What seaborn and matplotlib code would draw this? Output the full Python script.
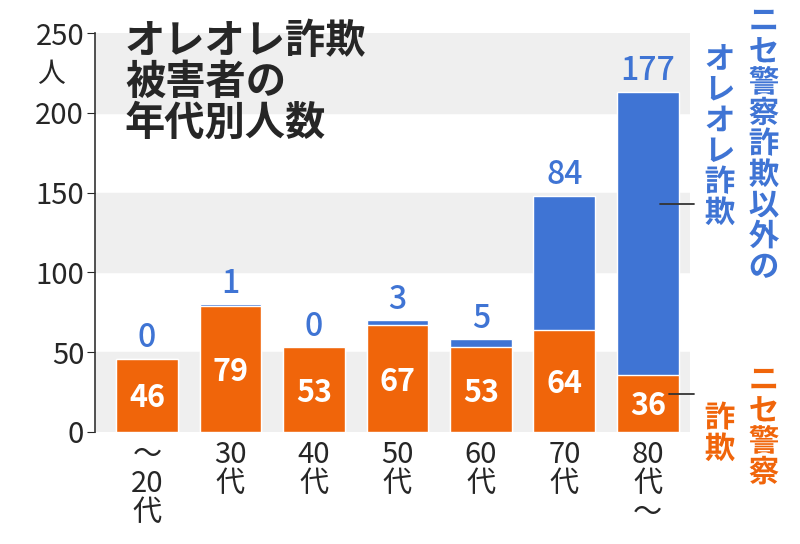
import matplotlib
matplotlib.use("Agg")
import matplotlib.pyplot as plt
import matplotlib.patheffects as pe
import seaborn as sns
import pandas as pd

ages = ["～\n20\n代", "30\n代", "40\n代", "50\n代", "60\n代", "70\n代", "80\n代\n～"]
police = [46, 79, 53, 67, 53, 64, 36]
other = [0, 1, 0, 3, 5, 84, 177]

sns.set_style("white")
plt.rcParams['font.family'] = ['Noto Sans CJK JP', 'DejaVu Sans']

blue = "#3f74d4"
orange = "#f0650a"

df = pd.DataFrame({"age": ages, "police": police, "other": other})
df["total"] = df["police"] + df["other"]

fig = plt.figure(figsize=(8, 5.44), dpi=100)
ax = fig.add_axes([0.119, 0.206, 0.744, 0.733])

for i, lo in enumerate(range(0, 250, 50)):
    if i % 2 == 0:
        ax.axhspan(lo, lo + 50, color="#efefef", zorder=0)

sns.barplot(data=df, x="age", y="total", color=blue, width=0.74, ax=ax, saturation=1, zorder=2)
sns.barplot(data=df, x="age", y="police", color=orange, width=0.74, ax=ax, saturation=1, zorder=3)

for i, (p, o) in enumerate(zip(police, other)):
    ax.text(i, p / 2 - 2, str(p), ha="center", va="center", color="white", fontsize=22,
            fontweight="bold", zorder=4)
    ax.text(i, p + o + 3, str(o), ha="center", va="bottom", color=blue, fontsize=23,
            fontweight="medium", zorder=4)

ax.set_xlim(-0.62, 6.51)
ax.set_ylim(0, 250)
ax.set_yticks(range(0, 251, 50))
ax.tick_params(axis="y", labelsize=21, length=6, direction="out", left=True, pad=2)
ax.tick_params(axis="x", labelsize=21, length=0, pad=6)
for lab in ax.get_xticklabels():
    lab.set_linespacing(0.95)
ax.set_xlabel("")
ax.set_ylabel("")
for s in ["top", "right", "bottom"]:
    ax.spines[s].set_visible(False)
ax.spines["left"].set_color("#333333")
ax.spines["left"].set_linewidth(1.2)
ax.text(-0.075, 0.935, "人", transform=ax.transAxes, fontsize=20, ha="center", va="top")

ax.text(0.05, 1.03, "オレオレ詐欺\n被害者の\n年代別人数", transform=ax.transAxes,
        fontsize=29, fontweight="bold", va="top", ha="left", linespacing=1.0, zorder=5)

stroke = [pe.withStroke(linewidth=5, foreground="white")]
def vtext(x, y, s, color):
    fig.text(x, y, "\n".join(s), color=color, fontsize=22, fontweight="bold", ha="center",
             va="top", linespacing=0.95, path_effects=stroke)

vtext(0.955, 0.99, "ニセ警察詐欺以外の", blue)
vtext(0.9, 0.92, "オレオレ詐欺", blue)
vtext(0.955, 0.33, "ニセ警察", orange)
vtext(0.9, 0.26, "詐欺", orange)

ax.plot([6.15, 6.55], [143, 143], color="#333333", lw=1.3, clip_on=False, zorder=5)
ax.plot([6.25, 6.55], [24, 24], color="#333333", lw=1.3, clip_on=False, zorder=5)

fig.savefig("out.png", dpi=100)
